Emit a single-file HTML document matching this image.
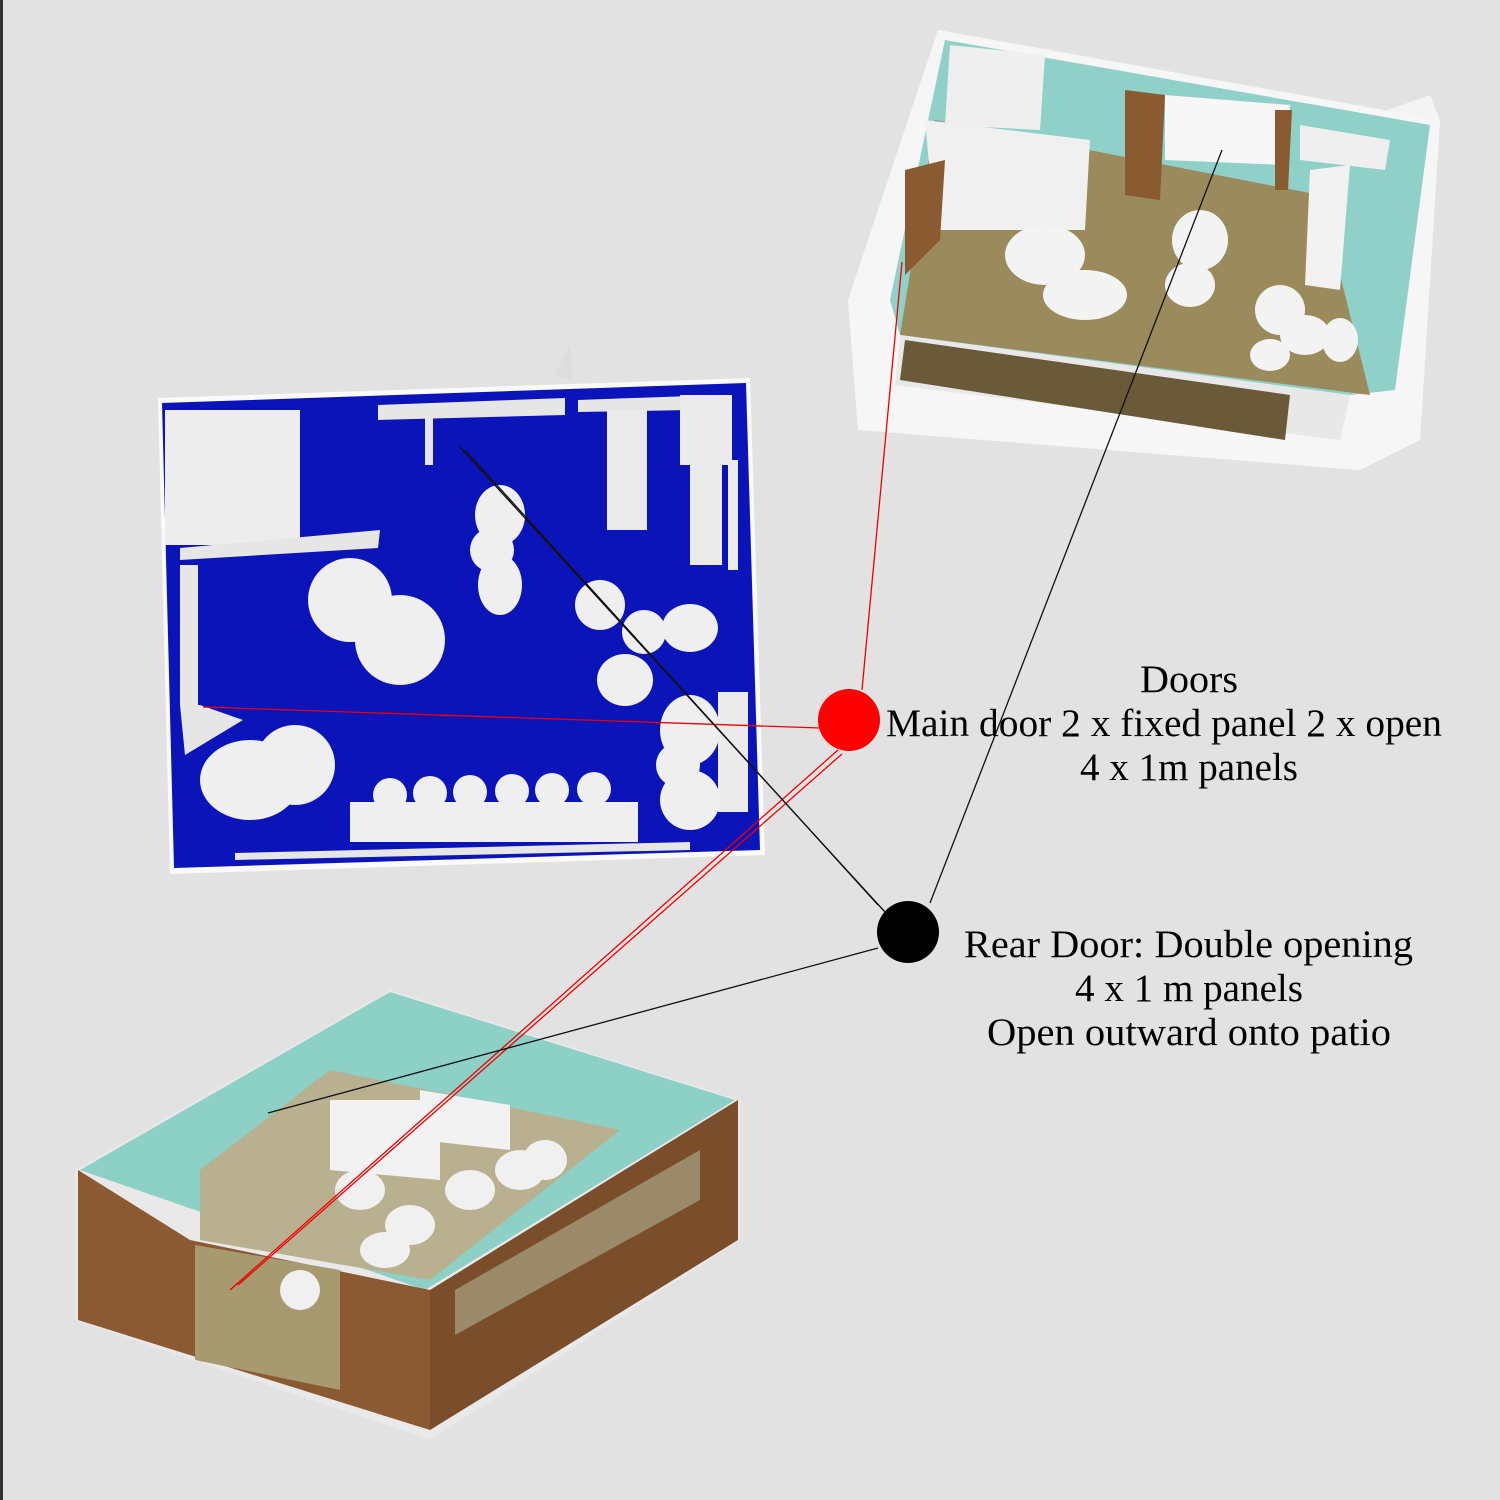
<!DOCTYPE html>
<html><head><meta charset="utf-8"><style>
html,body{margin:0;padding:0;background:#e2e2e2;}
svg{display:block}
text{font-family:"Liberation Serif",serif;fill:#000;}
</style></head><body>
<svg width="1500" height="1500" viewBox="0 0 1500 1500" xmlns="http://www.w3.org/2000/svg">
<rect width="1500" height="1500" fill="#e2e2e2"/>
<rect x="0" y="0" width="3" height="1500" fill="#333"/>

<!-- Top-right render -->
<polygon points="848,300 858,430 1360,470 1420,440 1440,120 1430,95" fill="#f4f4f4"/>
<polygon points="938,30 1440,120 1420,440 1360,470 858,430 848,300" fill="#f6f6f6"/>
<polygon points="945,40 1430,125 1395,390 1350,395 900,335 890,300" fill="#8fd0c8"/>
<polygon points="935,120 1320,195 1370,395 900,335" fill="#9a8a5c"/>
<polygon points="900,335 1350,395 1340,440 895,385" fill="#e8e8e8"/>
<polygon points="905,340 1290,395 1285,440 900,380" fill="#6b5a3a"/>
<polygon points="925,120 1090,140 1085,230 935,230" fill="#f0f0f0"/>
<polygon points="950,45 1045,55 1040,130 945,125" fill="#efefef"/>
<polygon points="1165,95 1290,105 1285,165 1165,160" fill="#f7f7f7"/>
<polygon points="1300,125 1390,140 1385,170 1300,160" fill="#efefef"/>
<polygon points="1310,170 1350,165 1340,290 1305,285" fill="#f2f2f2"/>
<polygon points="1125,90 1165,95 1160,200 1125,195" fill="#8a5a30"/>
<polygon points="1275,110 1292,110 1288,190 1275,190" fill="#8a5a30"/>
<polygon points="905,170 945,160 940,240 905,275" fill="#8a5a30"/>
<ellipse cx="1045" cy="255" rx="40" ry="30" fill="#f3f3f3"/>
<ellipse cx="1085" cy="295" rx="42" ry="25" fill="#f3f3f3"/>
<ellipse cx="1200" cy="240" rx="28" ry="30" fill="#f3f3f3"/>
<ellipse cx="1190" cy="285" rx="25" ry="22" fill="#f3f3f3"/>
<ellipse cx="1280" cy="310" rx="25" ry="25" fill="#f3f3f3"/>
<ellipse cx="1305" cy="335" rx="25" ry="20" fill="#f3f3f3"/>
<ellipse cx="1340" cy="340" rx="18" ry="22" fill="#f3f3f3"/>
<ellipse cx="1270" cy="355" rx="20" ry="16" fill="#f3f3f3"/>

<!-- Blue floorplan -->
<polygon points="158,398 750,378 765,855 170,874" fill="#fafafa"/>
<polygon points="162,403 746,383 760,850 174,868" fill="#0b14b8"/>
<rect x="165" y="410" width="135" height="135" fill="#ededed"/>
<polygon points="180,548 380,530 378,548 180,560" fill="#e6e6e6"/>
<polygon points="378,405 565,398 565,415 378,420" fill="#e6e6e6"/>
<polygon points="578,400 690,396 690,410 578,412" fill="#e6e6e6"/>
<rect x="425" y="415" width="8" height="50" fill="#e6e6e6"/>
<rect x="607" y="410" width="40" height="120" fill="#eaeaea"/>
<rect x="680" y="395" width="52" height="70" fill="#eaeaea"/>
<rect x="690" y="465" width="32" height="100" fill="#eaeaea"/>
<rect x="728" y="460" width="10" height="110" fill="#eaeaea"/>
<rect x="180" y="565" width="18" height="140" fill="#e6e6e6"/>
<polygon points="180,705 200,705 243,720 185,755" fill="#e6e6e6"/>
<rect x="718" y="692" width="30" height="120" fill="#eaeaea"/>
<ellipse cx="350" cy="600" rx="42" ry="42" fill="#efefef"/>
<ellipse cx="400" cy="640" rx="45" ry="45" fill="#efefef"/>
<ellipse cx="500" cy="515" rx="25" ry="30" fill="#efefef"/>
<ellipse cx="492" cy="550" rx="22" ry="22" fill="#efefef"/>
<ellipse cx="500" cy="585" rx="22" ry="30" fill="#efefef"/>
<ellipse cx="600" cy="605" rx="25" ry="25" fill="#efefef"/>
<ellipse cx="644" cy="632" rx="22" ry="22" fill="#efefef"/>
<ellipse cx="690" cy="628" rx="28" ry="24" fill="#efefef"/>
<ellipse cx="625" cy="680" rx="28" ry="26" fill="#efefef"/>
<ellipse cx="690" cy="730" rx="30" ry="35" fill="#efefef"/>
<ellipse cx="678" cy="765" rx="22" ry="22" fill="#efefef"/>
<ellipse cx="690" cy="800" rx="30" ry="30" fill="#efefef"/>
<ellipse cx="250" cy="780" rx="50" ry="40" fill="#efefef"/>
<ellipse cx="295" cy="765" rx="40" ry="40" fill="#efefef"/>
<rect x="350" y="802" width="288" height="40" fill="#efefef"/>
<g fill="#efefef"><circle cx="390" cy="795" r="17"/><circle cx="430" cy="793" r="17"/><circle cx="470" cy="792" r="17"/><circle cx="512" cy="791" r="17"/><circle cx="552" cy="790" r="17"/><circle cx="594" cy="789" r="17"/></g>
<polygon points="235,853 690,842 690,850 235,860" fill="#e6e6e6"/>
<polygon points="555,375 570,345 572,380" fill="#ddd"/>

<!-- Bottom-left render -->
<polygon points="75,1170 390,990 740,1100 740,1240 430,1440 75,1320" fill="#e9e9e9"/>
<polygon points="80,1170 390,992 735,1100 425,1290" fill="#8cd0c6"/>
<polygon points="200,1170 330,1070 620,1130 430,1280 200,1240" fill="#b9b090"/>
<polygon points="330,1100 440,1100 440,1180 330,1170" fill="#f2f2f2"/>
<polygon points="420,1090 510,1105 510,1150 420,1140" fill="#f2f2f2"/>
<polygon points="78,1170 190,1240 430,1290 430,1430 78,1320" fill="#8b5a32"/>
<polygon points="430,1290 738,1100 738,1240 430,1430" fill="#7a4e2b"/>
<polygon points="195,1245 340,1270 340,1390 195,1360" fill="#a89a70"/>
<polygon points="455,1290 700,1150 700,1200 455,1335" fill="#9a8a6a"/>
<g fill="#f0f0f0"><ellipse cx="360" cy="1190" rx="25" ry="20"/><ellipse cx="410" cy="1225" rx="25" ry="20"/><ellipse cx="470" cy="1190" rx="25" ry="20"/><ellipse cx="520" cy="1170" rx="25" ry="20"/><ellipse cx="545" cy="1160" rx="22" ry="20"/><ellipse cx="385" cy="1250" rx="25" ry="18"/><ellipse cx="300" cy="1290" rx="20" ry="20"/></g>

<!-- Connectors -->
<g stroke="#e00" stroke-width="1.3" fill="none">
<line x1="820" y1="728" x2="203" y2="707"/>
<line x1="862" y1="690" x2="902" y2="262"/>
<line x1="838" y1="750" x2="230" y2="1290"/>
<line x1="842" y1="754" x2="238" y2="1285"/>
</g>
<g stroke="#111" stroke-width="1.3" fill="none">
<line x1="885" y1="912" x2="460" y2="447"/>
<line x1="878" y1="905" x2="465" y2="450"/>
<line x1="930" y1="903" x2="1222" y2="150"/>
<line x1="878" y1="948" x2="268" y2="1113"/>
</g>
<circle cx="849" cy="720" r="31" fill="#f00"/>
<circle cx="908" cy="932" r="31" fill="#000"/>

<text x="1140" y="692" font-size="39" textLength="98" lengthAdjust="spacingAndGlyphs">Doors</text>
<text x="886" y="736" font-size="39" textLength="556" lengthAdjust="spacingAndGlyphs">Main door 2 x fixed panel 2 x open</text>
<text x="1080" y="780" font-size="39" textLength="218" lengthAdjust="spacingAndGlyphs">4 x 1m panels</text>
<text x="964" y="957" font-size="39" textLength="449" lengthAdjust="spacingAndGlyphs">Rear Door: Double opening</text>
<text x="1075" y="1001" font-size="39" textLength="228" lengthAdjust="spacingAndGlyphs">4 x 1 m panels</text>
<text x="987" y="1045" font-size="39" textLength="404" lengthAdjust="spacingAndGlyphs">Open outward onto patio</text>
</svg>
</body></html>
